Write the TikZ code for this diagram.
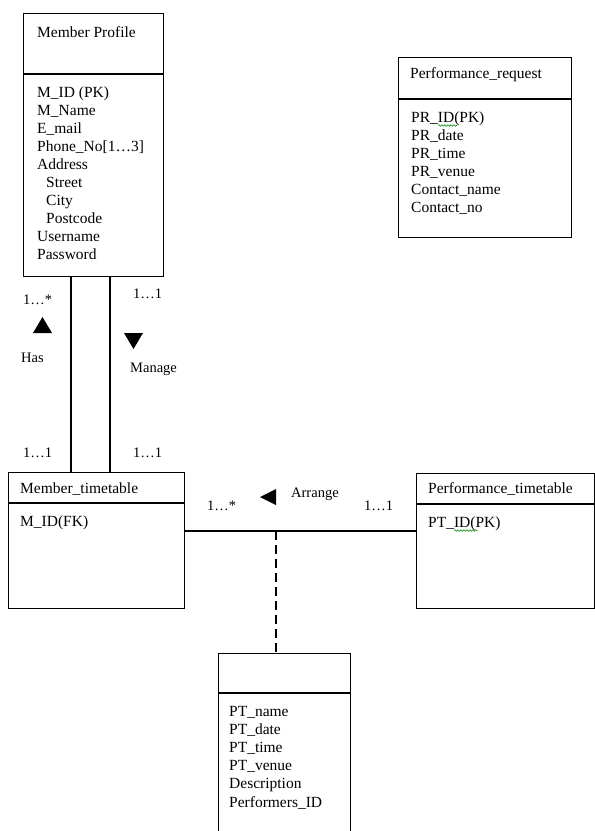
\documentclass[tikz,border=0pt]{standalone}
\usepackage{fontspec}
\setmainfont{Liberation Serif}
\usetikzlibrary{decorations.pathmorphing}
\begin{document}
\begin{tikzpicture}[x=1pt, y=-1pt,
  classbox/.style={draw, line width=1.1pt, inner sep=0pt, anchor=north west},
  divider/.style={line width=1.1pt},
  txt/.style={anchor=base west, inner sep=0pt, font=\fontsize{15.5}{18}\selectfont},
  lbl/.style={anchor=base west, inner sep=0pt, font=\fontsize{14.5}{17}\selectfont},
  link/.style={line width=1.1pt},
  dirmark/.style={fill=black},
  squig/.style={draw=green!55!black, line width=0.6pt, decorate,
    decoration={snake, amplitude=0.8pt, segment length=3pt}}
]
\useasboundingbox (0,0) rectangle (595,831);
\clip (0,0) rectangle (595,831);

% ---------- Member Profile ----------
\node[classbox, minimum width=140pt, minimum height=263pt] (mp) at (23,13) {};
\draw[divider] (mp.west |- 0,74) -- (mp.east |- 0,74);
\node[txt] (mpT) at (37,37) {Member Profile};
\foreach \t [count=\i from 0] in {M\_ID (PK), M\_Name, E\_mail, Phone\_No[1…3], Address}
  \node[txt] (mpA\i) at (37,97+18.1*\i) {\t};
\foreach \t [count=\i from 5] in {Street, City, Postcode}
  \node[txt] (mpA\i) at (46,97+18.1*\i) {\t};
\foreach \t [count=\i from 8] in {Username, Password}
  \node[txt] (mpA\i) at (37,97+18.1*\i) {\t};

% ---------- Performance_request ----------
\node[classbox, minimum width=173pt, minimum height=180pt] (pr) at (398,57) {};
\draw[divider] (pr.west |- 0,99) -- (pr.east |- 0,99);
\node[txt] (prT) at (410,78) {Performance\_request};
\foreach \t [count=\i from 0] in {PR\_ID(PK), PR\_date, PR\_time, PR\_venue, Contact\_name, Contact\_no}
  \node[txt] (prA\i) at (411,122+18.1*\i) {\t};
\draw[squig] (438,125.5) -- (457,125.5);

% ---------- Member_timetable ----------
\node[classbox, minimum width=176pt, minimum height=136pt] (mt) at (8,472) {};
\draw[divider] (mt.west |- 0,503) -- (mt.east |- 0,503);
\node[txt] (mtT) at (20,493) {Member\_timetable};
\node[txt] (mtA0) at (20,526) {M\_ID(FK)};

% ---------- Performance_timetable ----------
\node[classbox, minimum width=178pt, minimum height=135pt] (pt) at (416,473) {};
\draw[divider] (pt.west |- 0,504) -- (pt.east |- 0,504);
\node[txt] (ptT) at (428,493) {Performance\_timetable};
\node[txt] (ptA0) at (428,527) {PT\_ID(PK)};
\draw[squig] (454,530.5) -- (477,530.5);

% ---------- association class (open at the page foot) ----------
\node[classbox, minimum width=132pt, minimum height=200pt] (pb) at (218,653) {};
\draw[divider] (pb.west |- 0,693) -- (pb.east |- 0,693);
\foreach \t [count=\i from 0] in {PT\_name, PT\_date, PT\_time, PT\_venue, Description, Performers\_ID}
  \node[txt] (pbA\i) at (229,716+18.2*\i) {\t};

% ---------- connectors ----------
\coordinate (hasx) at (71,0);
\coordinate (manx) at (110,0);
\coordinate (arr) at (276,531);
\draw[link] (mp.south -| hasx) -- (mt.north -| hasx);
\draw[link] (mp.south -| manx) -- (mt.north -| manx);
\draw[link] (mt.east |- arr) -- (pt.west |- arr);
\draw[link, dash pattern=on 9pt off 5pt] (arr) -- (pb.north -| arr);

% ---------- multiplicities and role names ----------
\node[lbl] (m1) at (23,304) {1…*};
\node[lbl] (m2) at (133,298) {1…1};
\node[lbl] (m3) at (23,457) {1…1};
\node[lbl] (m4) at (133,457) {1…1};
\node[lbl] (hasL) at (21,362) {Has};
\node[lbl] (manL) at (130,372) {Manage};
\node[lbl] (arrL) at (291,497) {Arrange};
\node[lbl] (m5) at (207,510) {1…*};
\node[lbl] (m6) at (364,510) {1…1};

% ---------- reading-direction marks ----------
\fill[dirmark] (33,333) -- (42.5,317) -- (52,333) -- cycle;
\fill[dirmark] (124,333) -- (143,333) -- (133.5,349) -- cycle;
\fill[dirmark] (260,497) -- (276,489) -- (276,505) -- cycle;
\end{tikzpicture}
\end{document}
